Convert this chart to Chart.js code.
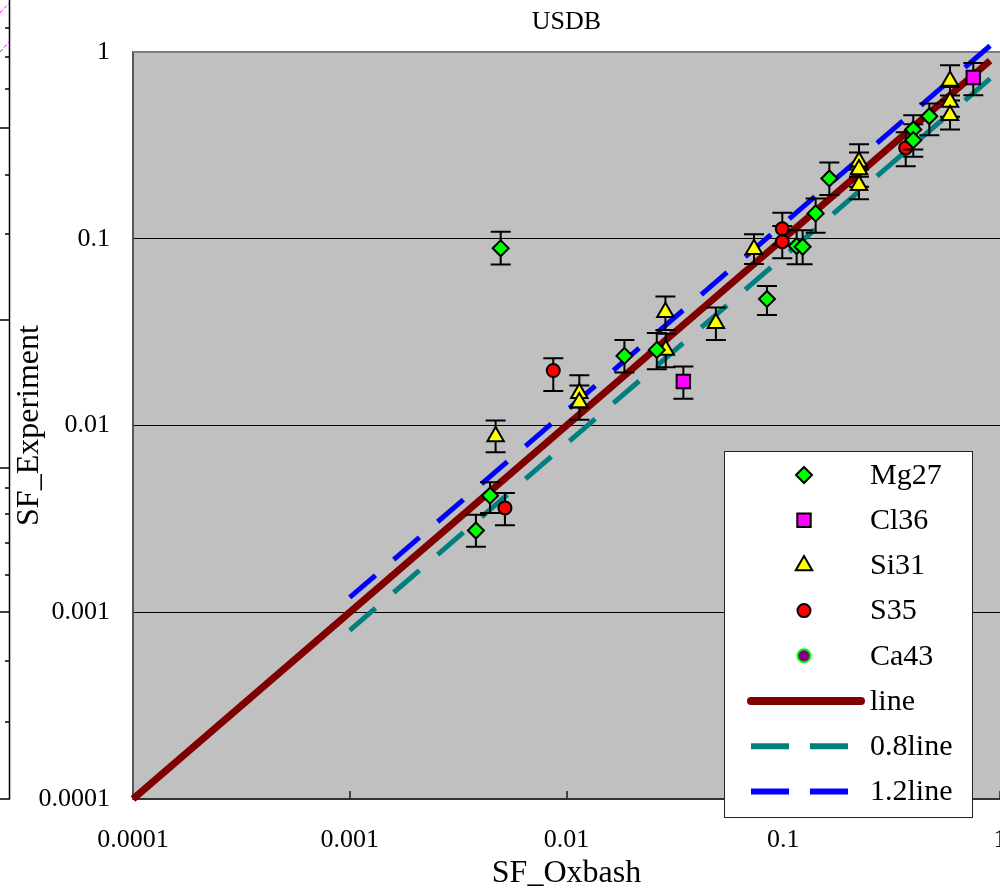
<!DOCTYPE html>
<html>
<head>
<meta charset="utf-8">
<script src="https://cdn.jsdelivr.net/npm/chart.js@4.4.1/dist/chart.umd.min.js"></script>
<style>
  html, body { margin: 0; padding: 0; background: #fff; overflow: hidden; }
  #wrap { width: 1000px; height: 892px; overflow: hidden; }
</style>
</head>
<body>
<div id="wrap"><canvas id="chart" width="1000" height="892"></canvas></div>
<script>
// tick values / labels (both axes)
const tickVals = [0.0001, 0.001, 0.01, 0.1, 1];
const tickLabels = ['0.0001', '0.001', '0.01', '0.1', '1'];

// Mg27
const mgX  = [0.00497, 0.0185, 0.0261, 0.00444, 0.00382, 0.0841, 0.1153, 0.1229, 0.1411, 0.1632, 0.398, 0.398, 0.472];
const mgY  = [0.0889, 0.0236, 0.0254, 0.00421, 0.00274, 0.0476, 0.0914, 0.0906, 0.1367, 0.2104, 0.3846, 0.3372, 0.4530];
const mgLo = [0.0729, 0.0192, 0.0200, 0.00340, 0.00224, 0.0391, 0.0730, 0.0730, 0.1077, 0.1713, 0.3009, 0.2745, 0.3585];
const mgHi = [0.109, 0.0287, 0.0313, 0.00496, 0.00333, 0.0559, 0.111, 0.111, 0.1644, 0.256, 0.4586, 0.4106, 0.5298];

// Cl36
const clX  = [0.0346, 0.753];
const clY  = [0.0172, 0.7295];
const clLo = [0.0139, 0.5868];
const clHi = [0.0207, 0.8733];

// Si31
const siX  = [0.00471, 0.01146, 0.01146, 0.0286, 0.0287, 0.0489, 0.0733, 0.2236, 0.2236, 0.2236, 0.588, 0.588, 0.588];
const siY  = [0.00873, 0.0149, 0.01327, 0.0404, 0.0254, 0.0353, 0.0878, 0.2581, 0.2350, 0.1937, 0.6998, 0.5404, 0.4586];
const siLo = [0.00718, 0.0125, 0.01073, 0.0325, 0.0205, 0.0287, 0.0732, 0.215, 0.19, 0.1625, 0.585, 0.45, 0.3846];
const siHi = [0.01065, 0.0186, 0.01637, 0.0490, 0.0310, 0.0428, 0.1056, 0.3209, 0.29, 0.235, 0.8487, 0.65, 0.55];

// S35
const sX  = [0.00869, 0.0052, 0.0990, 0.0990, 0.3673];
const sY  = [0.0197, 0.00362, 0.1131, 0.0964, 0.3066];
const sLo = [0.0153, 0.00292, 0.093, 0.0786, 0.2447];
const sHi = [0.0229, 0.00435, 0.1377, 0.117, 0.372];

// Ca43 (no points visible)
const caX = [];
const caY = [];

// reference lines
const lineX   = [0.0001, 0.9];
const lineY   = [0.0001, 0.9];
const line08X = [0.001, 0.9];
const line08Y = [0.0008, 0.72];
const line12X = [0.001, 0.9];
const line12Y = [0.0012, 1.08];

const FONT = "'Liberation Serif', 'DejaVu Serif', serif";

function pts(xs, ys) {
    return xs.map((x, i) => ({x: x, y: ys[i]}));
}

function pointSet(label, xs, ys, lo, hi, style, fill, border, radius) {
    return {
        label: label, data: pts(xs, ys), errLo: lo, errHi: hi,
        pointStyle: style, pointRadius: radius, backgroundColor: fill,
        borderColor: border, borderWidth: 2, showLine: false, order: 0
    };
}

function lineSet(label, xs, ys, color, width, dash, legendDash) {
    return {
        label: label, data: pts(xs, ys), showLine: true, pointRadius: 0,
        borderColor: color, backgroundColor: color, borderWidth: width,
        borderDash: dash, legendDash: legendDash, clip: false, order: 1
    };
}

// grey plot area, top border, and the cut-off axis strip at the left edge
const backPlugin = {
    id: 'backPlugin',
    beforeDraw(chart) {
        const {ctx, chartArea: a} = chart;
        ctx.save();
        ctx.fillStyle = '#fff';
        ctx.fillRect(0, 0, chart.width, chart.height);
        ctx.fillStyle = '#c0c0c0';
        ctx.fillRect(a.left, a.top, a.right - a.left, a.bottom - a.top);

        // strip of a neighbouring chart
        ctx.strokeStyle = '#000';
        ctx.lineWidth = 1.5;
        ctx.beginPath();
        ctx.moveTo(9.5, 0); ctx.lineTo(9.5, 799); ctx.lineTo(0, 799);
        for (const t of [28, 57, 89, 175, 234, 488, 514, 543, 575, 661, 722]) {
            ctx.moveTo(5, t); ctx.lineTo(9.5, t);
        }
        for (const t of [128, 320, 468, 612]) {
            ctx.moveTo(0, t); ctx.lineTo(9.5, t);
        }
        ctx.stroke();
        ctx.strokeStyle = '#ff00ff';
        ctx.lineWidth = 1;
        ctx.setLineDash([4, 2]);
        ctx.beginPath();
        ctx.moveTo(0, 13); ctx.lineTo(9, 3);
        ctx.moveTo(0, 52); ctx.lineTo(9, 42);
        ctx.stroke();
        ctx.restore();
    },
    beforeDatasetsDraw(chart) {
        const {ctx, chartArea: a} = chart;
        ctx.save();
        ctx.strokeStyle = '#808080';
        ctx.lineWidth = 2;
        ctx.beginPath();
        ctx.moveTo(a.left, a.top); ctx.lineTo(a.right, a.top);
        ctx.stroke();
        ctx.restore();
    }
};

// error bars, drawn just before the markers of their dataset
const errPlugin = {
    id: 'errPlugin',
    beforeDatasetDraw(chart, args) {
        const ds = chart.data.datasets[args.index];
        if (!ds.errLo) return;
        const ctx = chart.ctx;
        const y = chart.scales.y;
        ctx.save();
        ctx.strokeStyle = '#000';
        ctx.lineWidth = 2;
        ctx.beginPath();
        args.meta.data.forEach((p, i) => {
            const y1 = y.getPixelForValue(ds.errLo[i]);
            const y2 = y.getPixelForValue(ds.errHi[i]);
            ctx.moveTo(p.x, y1); ctx.lineTo(p.x, y2);
            ctx.moveTo(p.x - 10, y1); ctx.lineTo(p.x + 10, y1);
            ctx.moveTo(p.x - 10, y2); ctx.lineTo(p.x + 10, y2);
        });
        ctx.stroke();
        ctx.restore();
    }
};

// legend box inside the plot, lower right
const legendPlugin = {
    id: 'legendPlugin',
    afterDraw(chart) {
        const ctx = chart.ctx;
        const bx = 724, by = 451, bw = 248, bh = 366;
        ctx.save();
        ctx.fillStyle = '#fff';
        ctx.fillRect(bx, by, bw, bh);
        ctx.strokeStyle = '#222';
        ctx.lineWidth = 1;
        ctx.strokeRect(bx + 0.5, by + 0.5, bw, bh);
        ctx.font = '30px ' + FONT;
        ctx.textBaseline = 'middle';
        ctx.textAlign = 'left';
        chart.data.datasets.forEach((ds, i) => {
            const ry = 475 + i * 45.2;
            if (ds.showLine) {
                ctx.strokeStyle = ds.borderColor;
                ctx.beginPath();
                if (ds.legendDash) {
                    ctx.lineWidth = 6;
                    ctx.lineCap = 'butt';
                    ctx.setLineDash(ds.legendDash);
                    ctx.moveTo(751, ry); ctx.lineTo(848, ry);
                } else {
                    ctx.lineWidth = 8;
                    ctx.lineCap = 'round';
                    ctx.setLineDash([]);
                    ctx.moveTo(751, ry); ctx.lineTo(861, ry);
                }
                ctx.stroke();
                ctx.setLineDash([]);
                ctx.lineCap = 'butt';
            } else {
                ctx.fillStyle = ds.backgroundColor;
                ctx.strokeStyle = ds.borderColor;
                ctx.lineWidth = ds.borderWidth;
                Chart.helpers.drawPoint(ctx, {
                    pointStyle: ds.pointStyle, radius: ds.pointRadius,
                    rotation: 0, borderWidth: ds.borderWidth
                }, 804, ry);
            }
            ctx.fillStyle = '#000';
            ctx.fillText(ds.label, 870, ry + 1);
        });
        ctx.restore();
    }
};

function logAxis(opts) {
    return Object.assign({
        type: 'logarithmic', min: 0.0001, max: 1,
        afterBuildTicks: s => { s.ticks = tickVals.map(v => ({value: v})); }
    }, opts);
}

const chart = new Chart(document.getElementById('chart'), {
    type: 'scatter',
    data: {
        datasets: [
            pointSet('Mg27', mgX, mgY, mgLo, mgHi, 'rectRot', '#00ff00', '#000', 8),
            pointSet('Cl36', clX, clY, clLo, clHi, 'rect', '#ff00ff', '#000', 9.5),
            pointSet('Si31', siX, siY, siLo, siHi, 'triangle', '#ffff00', '#000', 9.5),
            pointSet('S35', sX, sY, sLo, sHi, 'circle', '#ff0000', '#000', 6.5),
            pointSet('Ca43', caX, caY, null, null, 'circle', '#800080', '#00ff00', 6.5),
            lineSet('line', lineX, lineY, '#800000', 7, [], null),
            lineSet('0.8line', line08X, line08Y, '#008080', 5, [34, 24], [38, 21]),
            lineSet('1.2line', line12X, line12Y, '#0000ff', 5, [34, 24], [38, 21])
        ]
    },
    options: {
        responsive: false,
        animation: false,
        events: [],
        layout: { padding: 0, autoPadding: false },
        plugins: {
            legend: { display: false },
            tooltip: { enabled: false },
            title: {
                display: true, text: 'USDB', fullSize: false, color: '#000',
                font: { family: FONT, size: 26, weight: 'normal', lineHeight: 1.2 },
                padding: { top: 7, bottom: 13.8 }
            }
        },
        scales: {
            x: logAxis({
                position: 'bottom',
                afterFit: s => { s.height = 93; s.paddingLeft = 0; s.paddingRight = 0; },
                ticks: {
                    callback: v => tickLabels[tickVals.indexOf(v)],
                    font: { family: FONT, size: 26 }, color: '#000',
                    padding: 34, maxRotation: 0, minRotation: 0, autoSkip: false
                },
                grid: { drawOnChartArea: false, drawTicks: true, tickLength: -8, color: '#444', lineWidth: 2 },
                border: { display: true, color: '#333', width: 2 },
                title: {
                    display: true, text: 'SF_Oxbash', color: '#000',
                    font: { family: FONT, size: 32, lineHeight: 1.2 },
                    padding: { top: 0, bottom: -1 }
                }
            }),
            y: logAxis({
                afterFit: s => { s.width = 133; s.paddingTop = 0; s.paddingBottom = 0; },
                ticks: {
                    callback: v => tickLabels[tickVals.indexOf(v)],
                    font: { family: FONT, size: 26 }, color: '#000',
                    padding: 23, autoSkip: false
                },
                grid: {
                    drawTicks: false, lineWidth: 1,
                    color: c => (c.tick && (c.tick.value === 1 || c.tick.value === 0.0001)) ? 'rgba(0,0,0,0)' : '#000'
                },
                border: { display: true, color: '#555', width: 2 },
                title: {
                    display: true, text: 'SF_Experiment', color: '#000',
                    font: { family: FONT, size: 32, lineHeight: 1.2 },
                    padding: { top: 10, bottom: 0 }
                }
            })
        }
    },
    plugins: [backPlugin, errPlugin, legendPlugin]
});
</script>
</body>
</html>
